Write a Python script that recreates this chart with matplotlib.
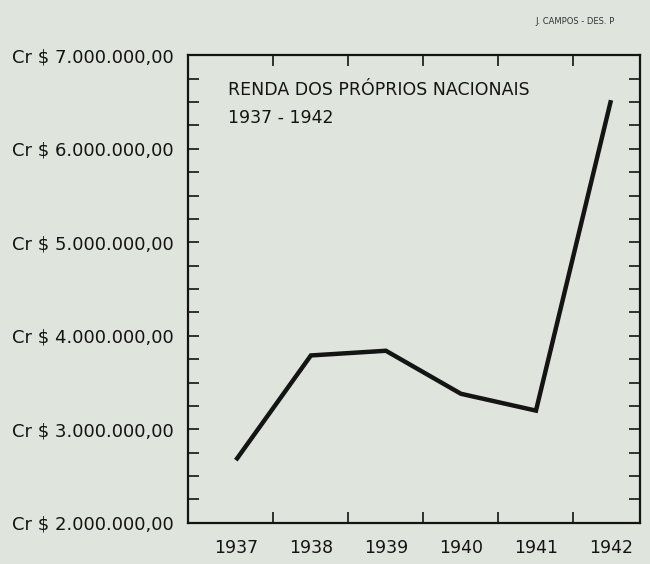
import numpy as np
import matplotlib.pyplot as plt
from matplotlib.ticker import FixedLocator, MultipleLocator

years = ['1937', '1938', '1939', '1940', '1941', '1942']
renda = [2670000, 3790000, 3840000, 3380000, 3200000, 6520000]

y_major = [2000000, 3000000, 4000000, 5000000, 6000000, 7000000]

def fmt_cr(v):
    s = f'{int(v):,}'.replace(',', '.')
    return f'Cr $ {s},00'

bg = '#dfe5dc'
ink = '#141414'

fig = plt.figure(figsize=(6.5, 5.64), dpi=100, facecolor=bg)
ax = fig.add_axes([0.289, 0.073, 0.696, 0.829])
ax.set_facecolor(bg)

x = np.arange(len(years))
ax.plot(x, renda, color=ink, lw=3.2, solid_joinstyle='miter', solid_capstyle='butt')

ax.set_xlim(-0.64, 5.39)
ax.set_ylim(2000000, 7000000)

# ticks on boundaries between years, labels centred on each year
ax.xaxis.set_major_locator(FixedLocator(x + 0.5))
ax.xaxis.set_minor_locator(FixedLocator(x))
ax.set_xticklabels([])
ax.set_xticklabels(years, minor=True)
ax.tick_params(axis='x', which='major', direction='in', length=8, width=1.2,
               top=True, bottom=True, color=ink)
ax.tick_params(axis='x', which='minor', length=0, pad=12, labelsize=12.5, labelcolor=ink)

ax.yaxis.set_major_locator(FixedLocator(y_major))
ax.yaxis.set_minor_locator(MultipleLocator(250000))
ax.set_yticklabels([fmt_cr(v) for v in y_major])
ax.tick_params(axis='y', which='both', direction='in', length=8, width=1.2,
               left=True, right=True, color=ink)
ax.tick_params(axis='y', which='major', pad=10, labelsize=13, labelcolor=ink)

for s in ax.spines.values():
    s.set_linewidth(1.6)
    s.set_color(ink)

ax.text(0.088, 0.925, 'RENDA DOS PRÓPRIOS NACIONAIS', transform=ax.transAxes,
        fontsize=12.5, color=ink, va='center')
ax.text(0.088, 0.865, '1937 - 1942', transform=ax.transAxes,
        fontsize=12.5, color=ink, va='center')

fig.text(0.885, 0.962, 'J. CAMPOS - DES. P', fontsize=6, color='#333333',
         ha='center', va='center')

fig.savefig('out.png', dpi=100, facecolor=bg)
